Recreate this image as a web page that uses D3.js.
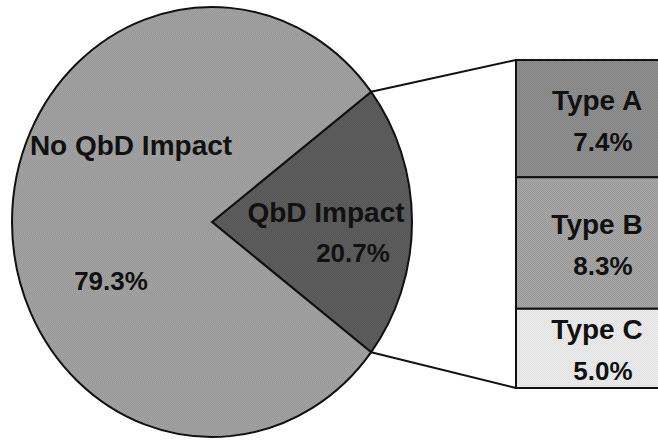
<!DOCTYPE html>
<html>
<head>
<meta charset="utf-8">
<script src="https://cdn.jsdelivr.net/npm/d3@7"></script>
<style>
  body { margin: 0; background: #fff; }
  text { font-family: "Liberation Sans", Arial, sans-serif; font-weight: bold; fill: #111; }
</style>
</head>
<body>
<div id="chart"></div>
<script>
// Data
const pieLabels = ["QbD Impact", "No QbD Impact"];
const pieValues = [20.7, 79.3];
const typeLabels = ["Type A", "Type B", "Type C"];
const typeValues = [7.4, 8.3, 5.0];

// Dimensions
const width = 658, height = 440;
const cx = 212, cy = 222, rx = 200, ry = 215;
const boxX = 516, boxTop = 60, boxBottom = 388;

const svg = d3.select("#chart").append("svg")
  .attr("width", width).attr("height", height);

// dithered grey fills, like the scanned original
const defs = svg.append("defs");
function dither(id, base, amp) {
  const c = d3.color(base);
  const p = defs.append("pattern").attr("id", id)
    .attr("width", 2).attr("height", 2).attr("patternUnits", "userSpaceOnUse");
  p.append("rect").attr("width", 2).attr("height", 2).attr("fill", c.brighter(amp));
  p.append("rect").attr("width", 1).attr("height", 1).attr("fill", c.darker(amp));
  p.append("rect").attr("x", 1).attr("y", 1).attr("width", 1).attr("height", 1).attr("fill", c.darker(amp));
  return `url(#${id})`;
}
const pieFill = [dither("p0", "#5a5a5a", 0.25), dither("p1", "#9d9d9d", 0.2)];
const typeFill = [dither("t0", "#898989", 0.2), dither("t1", "#9f9f9f", 0.2), dither("t2", "#e6e6e6", 0.08)];

// Pie: QbD slice centred on 3 o'clock
const share = pieValues[0] / d3.sum(pieValues);
const start = Math.PI / 2 - share * Math.PI;
const pie = d3.pie().sort(null).startAngle(start).endAngle(start + 2 * Math.PI);
const arcs = pie(pieValues);
const arc = d3.arc().innerRadius(0).outerRadius(rx);

const pieG = svg.append("g")
  .attr("transform", `translate(${cx},${cy}) scale(1,${ry / rx})`);
pieG.selectAll("path").data(arcs).join("path")
  .attr("d", arc)
  .attr("fill", (d, i) => pieFill[i])
  .attr("stroke", "#111")
  .attr("stroke-width", 2)
  .attr("vector-effect", "non-scaling-stroke");

// slice corner points on the ellipse
const pt = (a) => [cx + rx * Math.sin(a), cy - ry * Math.cos(a)];
const upper = pt(arcs[0].startAngle), lower = pt(arcs[0].endAngle);

// Breakdown column
const yScale = d3.scaleLinear().domain([0, d3.sum(typeValues)]).range([boxTop, boxBottom]);
const cum = d3.cumsum(typeValues);
const segs = typeValues.map((v, i) => ({ label: typeLabels[i], value: v, y0: cum[i] - v, y1: cum[i] }));

// connector lines
svg.append("line").attr("x1", upper[0]).attr("y1", upper[1]).attr("x2", boxX).attr("y2", yScale(0))
  .attr("stroke", "#111").attr("stroke-width", 2);
svg.append("line").attr("x1", lower[0]).attr("y1", lower[1]).attr("x2", boxX).attr("y2", yScale(d3.sum(typeValues)))
  .attr("stroke", "#111").attr("stroke-width", 2);

const seg = svg.append("g").selectAll("g").data(segs).join("g");
seg.append("rect")
  .attr("x", boxX).attr("y", d => yScale(d.y0))
  .attr("width", 200).attr("height", d => yScale(d.y1) - yScale(d.y0))
  .attr("fill", (d, i) => typeFill[i])
  .attr("stroke", "#111").attr("stroke-width", 2);
seg.append("text")
  .attr("x", 597).attr("y", d => (yScale(d.y0) + yScale(d.y1)) / 2 - 9)
  .attr("text-anchor", "middle").attr("font-size", 28)
  .text(d => d.label);
seg.append("text")
  .attr("x", 603).attr("y", d => (yScale(d.y0) + yScale(d.y1)) / 2 + 32)
  .attr("text-anchor", "middle").attr("font-size", 26)
  .text(d => d.value.toFixed(1) + "%");

// Pie labels
const lab = svg.append("g").attr("text-anchor", "middle");
lab.append("text").attr("x", cx + 114).attr("y", cy).attr("font-size", 28).text(pieLabels[0]);
lab.append("text").attr("x", cx + 141).attr("y", cy + 40).attr("font-size", 26).text(pieValues[0].toFixed(1) + "%");
lab.append("text").attr("x", cx - 81).attr("y", cy - 67).attr("font-size", 28).text(pieLabels[1]);
lab.append("text").attr("x", cx - 101).attr("y", cy + 68).attr("font-size", 26).text(pieValues[1].toFixed(1) + "%");
</script>
</body>
</html>
